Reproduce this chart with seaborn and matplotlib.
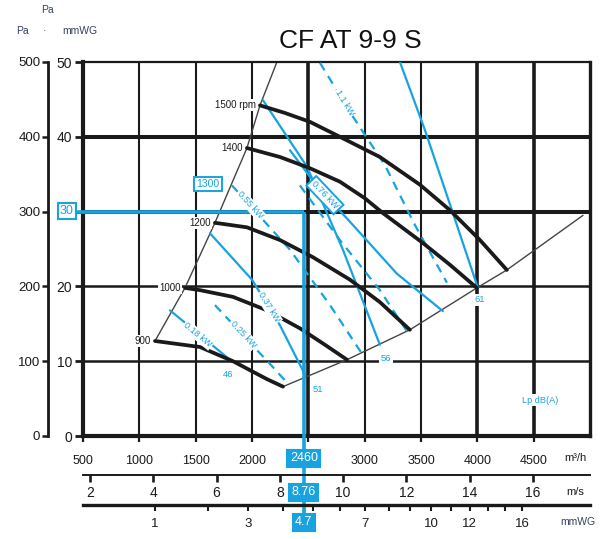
import numpy as np
import pandas as pd
import matplotlib
matplotlib.use("Agg")
import matplotlib.pyplot as plt
import matplotlib.transforms as mtransforms
import seaborn as sns

sns.set_theme(style="white")
plt.rcParams['font.family'] = ['Liberation Sans', 'DejaVu Sans']

BLUE = "#17a3df"
INK = "#1a1a1a"
HEAD = "#34425f"

title = "CF AT 9-9 S"

# ---------------- fan curves: flow (m3/h) vs static pressure (Pa)
rpm_names = ["1500 rpm", "1400", "1200", "1000", "900"]
q_1500 = [2071, 2290, 2514, 2780, 3135, 3490, 3756, 4023, 4262]
p_1500 = [442, 432, 420, 400, 373, 336, 302, 262, 222]
q_1400 = [1955, 2248, 2514, 2780, 3000, 3162, 3517, 3756, 3996]
p_1400 = [385, 373, 358, 340, 318, 298, 258, 229, 198]
q_1200 = [1671, 1955, 2248, 2541, 2869, 3135, 3401]
p_1200 = [285, 279, 262, 239, 209, 179, 142]
q_1000 = [1405, 1538, 1831, 2133, 2425, 2647, 2843]
p_1000 = [198, 195, 186, 168, 144, 122, 102]
q_900 = [1139, 1538, 1831, 2133, 2275]
p_900 = [127, 119, 100, 76, 66]

# working range limits
q_left = [1139, 1405, 1671, 1955, 2071, 2221]
p_left = [127, 198, 285, 385, 442, 500]
q_right = [2275, 2843, 3401, 3996, 4262, 4938]
p_right = [66, 102, 142, 198, 222, 295]

# ---------------- absorbed power lines (kW)
kw_names = ["1.1 kW", "0.76 kW", "0.55 kW", "0.37 kW", "0.25 kW", "0.18 kW"]
q_kw110 = [2603, 2887, 3180, 3446, 3730]
p_kw110 = [499, 429, 362, 282, 205]
q_kw076 = [2337, 2603, 2842, 3286, 3694]
p_kw076 = [382, 329, 291, 217, 167]
q_kw055 = [1822, 2337, 2692, 2976]
p_kw055 = [335, 249, 175, 110]
q_kw037 = [1627, 2000, 2248, 2470]
p_kw037 = [271, 209, 148, 82]
q_kw025 = [1671, 2186, 2319]
p_kw025 = [175, 92, 70]
q_kw018 = [1272, 1538, 1804]
p_kw018 = [168, 135, 102]
q_kwx = [2425, 2780, 3135, 3375]
p_kwx = [335, 262, 195, 140]
kw_label_q = [2825, 2647, 1982, 2150, 1920, 1520]
kw_label_p = [446, 322, 309, 172, 136, 135]

# ---------------- sound pressure lines Lp dB(A)
q_db61 = [3313, 3535, 3774, 4005]
p_db61 = [500, 409, 302, 198]
q_db56 = [2097, 2488, 2807, 3135]
p_db56 = [449, 360, 249, 122]
db_names = ["46", "51", "56", "61"]
db_label_q = [1787, 2585, 3189, 4023]
db_label_p = [82, 62, 104, 182]

# ---------------- duty point
op_flow = 2460
op_pressure = 300
op_mmwg = 30
op_rpm = "1300"
op_velocity = 8.76
op_dyn = 4.7
op_power = "0.76 kW"

# ---------------- axes scales / labels
flow_ticks = [500, 1000, 1500, 2000, 2500, 3000, 3500, 4000, 4500]
pa_ticks = [0, 100, 200, 300, 400, 500]
mmwg_labels = ["0", "10", "20", "", "40", "50"]
vel_ticks = [2, 4, 6, 8, 10, 12, 14, 16]
dyn_ticks = list(range(1, 16))
dyn_label_vals = [1, 3, 7, 10, 12, 15]
dyn_label_txt = ["1", "3", "7", "10", "12", "16"]

AIR_DENSITY = 1.2
G = 9.81
DUCT_AREA = op_flow / 3600.0 / op_velocity


def flow_from_velocity(v):
    return np.asarray(v, float) * DUCT_AREA * 3600.0


def flow_from_dyn(pd_mm):
    v = np.sqrt(2.0 * np.asarray(pd_mm, float) * G / AIR_DENSITY)
    return flow_from_velocity(v)


W, H = 604, 539
fig = plt.figure(figsize=(W / 100, H / 100), dpi=100)
fig.patch.set_facecolor("white")

L, R, T, B = 83, 590, 62, 436
ax = fig.add_axes([L / W, 1 - B / H, (R - L) / W, (B - T) / H])
ax.set_xlim(500, 5000)
ax.set_ylim(0, 500)
ax.set_facecolor("white")

# grid
thick_v = {2500, 4000, 4500}
for v in range(1000, 5000, 500):
    ax.axvline(v, color=INK, lw=2.6 if v in thick_v else 1.5, zorder=1)
thick_h = {300, 400}
for h in range(100, 500, 100):
    ax.axhline(h, color=INK, lw=2.9 if h in thick_h else 1.8, zorder=1)

for side, lw in [("left", 3.0), ("bottom", 3.0), ("top", 1.6), ("right", 2.4)]:
    ax.spines[side].set_visible(True)
    ax.spines[side].set_linewidth(lw)
    ax.spines[side].set_color(INK)

# boundaries
for qs, ps in [(q_left, p_left), (q_right, p_right)]:
    sns.lineplot(x=qs, y=ps, sort=False, estimator=None, ax=ax, color="#444444",
                 lw=1.0, zorder=2)

# blue lines
blue_lines = [
    (q_kw110, p_kw110, (4, 3)),
    (q_kw076, p_kw076, None),
    (q_kw055, p_kw055, (4, 3)),
    (q_kw037, p_kw037, None),
    (q_kw025, p_kw025, (4, 3)),
    (q_kw018, p_kw018, None),
    (q_kwx, p_kwx, (4, 3)),
    (q_db61, p_db61, None),
    (q_db56, p_db56, None),
]
for qs, ps, dash in blue_lines:
    l = sns.lineplot(x=qs, y=ps, sort=False, estimator=None, ax=ax, color=BLUE,
                     lw=1.6, zorder=3)
    if dash is not None:
        l.lines[-1].set_dashes(dash)

# fan curves
fan = [(q_1500, p_1500), (q_1400, p_1400), (q_1200, p_1200),
       (q_1000, p_1000), (q_900, p_900)]
for (qs, ps), name in zip(fan, rpm_names):
    l = sns.lineplot(x=qs, y=ps, sort=False, estimator=None, ax=ax, color=INK,
                     lw=2.7, zorder=4)
    l.lines[-1].set_solid_joinstyle("round")
    ax.annotate(name, (qs[0], ps[0]), xytext=(-3, 0), textcoords="offset points",
                ha="right", va="center", fontsize=7, color=INK, zorder=6,
                bbox=dict(boxstyle="square,pad=0.1", fc="white", ec="none"))

# ticks on main axes
ax.set_xticks(flow_ticks)
ax.set_xticklabels([str(t) if t != 2500 else "" for t in flow_ticks])
ax.set_yticks(pa_ticks)
ax.set_yticklabels(mmwg_labels)
ax.tick_params(axis="x", direction="out", length=4.5, width=1.6, pad=9,
               labelsize=9, colors=INK, bottom=True)
ax.tick_params(axis="y", direction="out", length=5.8, width=2.0, pad=2,
               labelsize=10, colors=INK, left=True)
ax.set_xlabel("")
ax.set_ylabel("")


def screen_angle(qs, ps, qx):
    pts = ax.transData.transform(np.column_stack([qs, ps]))
    i = int(np.clip(np.searchsorted(qs, qx) - 1, 0, len(qs) - 2))
    d = pts[i + 1] - pts[i]
    return np.degrees(np.arctan2(d[1], d[0]))


kw_lines = [(q_kw110, p_kw110), (q_kw076, p_kw076), (q_kw055, p_kw055),
            (q_kw037, p_kw037), (q_kw025, p_kw025), (q_kw018, p_kw018)]
for (qs, ps), name, lq, lp in zip(kw_lines, kw_names, kw_label_q, kw_label_p):
    ang = screen_angle(qs, ps, lq)
    if name == op_power:
        ax.text(lq, lp, name, rotation=ang, rotation_mode="anchor", ha="center",
                va="center", fontsize=6.8, color=BLUE, zorder=7,
                bbox=dict(boxstyle="square,pad=0.25", fc="white", ec=BLUE, lw=1.4))
    else:
        ax.text(lq, lp, name, rotation=ang, rotation_mode="anchor", ha="center",
                va="center", fontsize=6.6, color=BLUE, zorder=6,
                bbox=dict(boxstyle="square,pad=0.12", fc="white", ec="none"))

for name, lq, lp in zip(db_names, db_label_q, db_label_p):
    ax.text(lq, lp, name, ha="center", va="center", fontsize=6.8, color=BLUE,
            zorder=6, bbox=dict(boxstyle="square,pad=0.15", fc="white", ec="none"))
ax.text(4555, 48, "Lp dB(A)", ha="center", va="center", fontsize=6.6, color=BLUE,
        zorder=6, bbox=dict(boxstyle="square,pad=0.2", fc="white", ec="none"))

# duty point lines
op_ax_x = (op_flow - 500) / 4500
ax.plot([-0.03, op_ax_x], [op_pressure, op_pressure],
        transform=mtransforms.blended_transform_factory(ax.transAxes, ax.transData),
        color=BLUE, lw=2.6, clip_on=False, zorder=5, solid_capstyle="butt")
top_fig = fig.transFigure.inverted().transform(
    ax.transData.transform((op_flow, op_pressure)))[1]
ax.plot([op_flow, op_flow], [top_fig, 1 - 515 / H],
        transform=mtransforms.blended_transform_factory(ax.transData, fig.transFigure),
        color=BLUE, lw=2.6, clip_on=False, zorder=5, solid_capstyle="butt")

ax.text(op_flow - 850, op_pressure + 37, op_rpm, ha="center", va="center",
        fontsize=7.5, color=BLUE, zorder=7,
        bbox=dict(boxstyle="square,pad=0.2", fc="white", ec=BLUE, lw=1.4))

fig.text(67 / W, 1 - 211 / H, str(op_mmwg), ha="center", va="center",
         fontsize=9, color=BLUE, zorder=8,
         bbox=dict(boxstyle="square,pad=0.15", fc="white", ec=BLUE, lw=1.5))

bt = mtransforms.blended_transform_factory(ax.transData, fig.transFigure)
for txt, yy in [(f"{op_flow}", 458), (f"{op_velocity:.2f}", 492), (f"{op_dyn}", 522)]:
    fig.text(op_flow, 1 - yy / H, txt, transform=bt, ha="center", va="center",
             fontsize=9, color="white", zorder=8,
             bbox=dict(boxstyle="square,pad=0.2", fc=BLUE, ec=BLUE, lw=1.5))

# ---------------- Pa axis (left)
ax_pa = fig.add_axes([48 / W, 1 - B / H, 0.0001, (B - T) / H])
ax_pa.set_ylim(0, 500)
ax_pa.set_yticks(pa_ticks)
ax_pa.set_yticklabels([str(t) for t in pa_ticks])
ax_pa.set_xticks([])
for s in ["top", "right", "bottom"]:
    ax_pa.spines[s].set_visible(False)
ax_pa.spines["left"].set_linewidth(2.0)
ax_pa.spines["left"].set_color(INK)
ax_pa.tick_params(axis="y", direction="out", length=4.5, width=1.8, pad=1,
                  labelsize=9.5, colors=INK, left=True)
ax_pa.patch.set_alpha(0)

# ---------------- velocity axis
ax_v = fig.add_axes([L / W, 1 - 475 / H, (R - L) / W, 0.0001])
ax_v.set_xlim(500, 5000)
ax_v.set_xticks(flow_from_velocity(vel_ticks))
ax_v.set_xticklabels([str(v) for v in vel_ticks])
ax_v.set_yticks([])
for s in ["top", "right", "left"]:
    ax_v.spines[s].set_visible(False)
ax_v.spines["bottom"].set_linewidth(1.4)
ax_v.spines["bottom"].set_color(INK)
ax_v.tick_params(axis="x", direction="out", length=5, width=1.9, pad=3,
                 labelsize=10, colors=INK, bottom=True)
ax_v.patch.set_alpha(0)

# ---------------- dynamic pressure axis
ax_d = fig.add_axes([L / W, 1 - 505 / H, (R - L) / W, 0.0001])
ax_d.set_xlim(500, 5000)
ax_d.set_xticks(flow_from_dyn(dyn_ticks))
ax_d.set_xticklabels([dyn_label_txt[dyn_label_vals.index(t)] if t in dyn_label_vals
                      else "" for t in dyn_ticks])
ax_d.set_yticks([])
for s in ["top", "right", "left"]:
    ax_d.spines[s].set_visible(False)
ax_d.spines["bottom"].set_linewidth(2.4)
ax_d.spines["bottom"].set_color(INK)
ax_d.tick_params(axis="x", direction="out", length=4.5, width=1.5, pad=5,
                 labelsize=9.5, colors=INK, bottom=True)
ax_d.patch.set_alpha(0)

# unit labels
fig.text(575 / W, 1 - 458 / H, "m³/h", ha="center", va="center", fontsize=8, color=INK)
fig.text(575 / W, 1 - 492 / H, "m/s", ha="center", va="center", fontsize=8, color=INK)
fig.text(578 / W, 1 - 522 / H, "mmWG", ha="center", va="center", fontsize=7.5, color=HEAD)

# header
fig.text(47 / W, 1 - 10 / H, "Pa", ha="center", va="center", fontsize=7.5, color=HEAD)
fig.text(22 / W, 1 - 31 / H, "Pa", ha="center", va="center", fontsize=7.5, color=HEAD)
fig.text(45 / W, 1 - 31 / H, "·", ha="center", va="center", fontsize=7.5, color=HEAD)
fig.text(80 / W, 1 - 31 / H, "mmWG", ha="center", va="center", fontsize=7.5, color=HEAD)

fig.text(350 / W, 1 - 41 / H, title, ha="center", va="center", fontsize=19, color="#111111")

fig.savefig("out.png", dpi=100, facecolor="white")
